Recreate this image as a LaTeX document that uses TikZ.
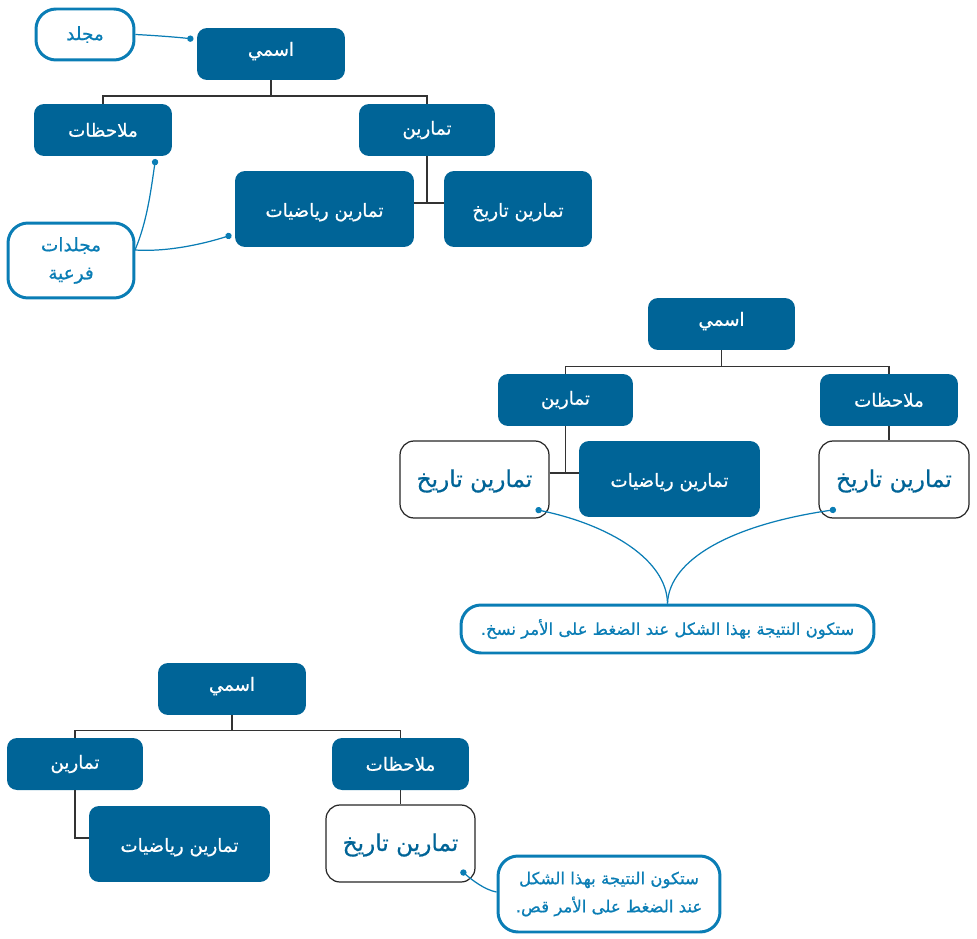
\documentclass[tikz,border=0pt]{standalone}
\usepackage{fontspec}
\usetikzlibrary{arrows.meta}
\TeXXeTstate=1
\newfontfamily\arabicfont[Script=Arabic,FakeBold=0.7]{DejaVu Sans}
\newcommand{\ar}[1]{\arabicfont\beginR #1\endR}
\definecolor{boxblue}{HTML}{006497}
\definecolor{noteblue}{HTML}{0A7DB5}
\tikzset{
  bluebox/.style={fill=boxblue,rounded corners=0.2cm,text=white,font=\fontsize{10.4pt}{14pt}\selectfont,inner sep=0pt},
  tallbox/.style={bluebox,text height=9pt,text depth=0pt},
  namebox/.style={bluebox,text height=6pt,text depth=4pt},
  whitebox/.style={draw=black!85,line width=0.7pt,fill=white,rounded corners=0.28cm,text=boxblue,font=\fontsize{13.2pt}{20pt}\selectfont,inner sep=0pt,text height=10pt,text depth=1.5pt},
  notebox/.style={draw=noteblue,line width=1.7pt,fill=white,rounded corners=0.4cm,text=noteblue,align=center,font=\fontsize{9.4pt}{16pt}\selectfont,inner sep=0pt},
  smallnote/.style={notebox,font=\fontsize{10.5pt}{16pt}\selectfont},
  treeline/.style={draw=black!80,line width=0.7pt},
  noteline/.style={draw=noteblue,line width=0.7pt},
  dotline/.style={noteline,-{Circle[length=3.6pt]}}
}
\begin{document}
\begin{tikzpicture}[x=0.02cm,y=-0.02cm]
\useasboundingbox (0,0) rectangle (977,939);

% top tree
\node (name1) at (271,54) [namebox,minimum width=2.96cm,minimum height=1.04cm] {\ar{اسمي}};
\node (notes1) at (103,130) [bluebox,minimum width=2.76cm,minimum height=1.04cm] {\ar{ملاحظات}};
\node (drills1) at (427,130) [bluebox,minimum width=2.72cm,minimum height=1.04cm] {\ar{تمارين}};
\node (math1) at (324.5,209) [tallbox,minimum width=3.58cm,minimum height=1.52cm] {\ar{تمارين رياضيات}};
\node (hist1) at (518,209) [tallbox,minimum width=2.96cm,minimum height=1.52cm] {\ar{تمارين تاريخ}};
\node (folder1) at (85,34.5) [smallnote,minimum width=1.96cm,minimum height=1.02cm] {\ar{مجلد}};
\node (sub1) at (71,260.5) [smallnote,minimum width=2.52cm,minimum height=1.5cm] {\ar{مجلدات}\\\ar{فرعية}};
\coordinate (bus1) at (271,96);
\coordinate (join1) at (427,203);
\coordinate (folderend1) at (193.5,39);
\coordinate (subnotes1) at (155.5,159);
\coordinate (submath1) at (231.5,235);
\draw [treeline] (name1.south) -- (bus1);
\draw [treeline] (notes1.north) |- (bus1) -| (drills1.north);
\draw [treeline] (drills1.south) -- (join1);
\draw [treeline] (math1.east |- join1) -- (hist1.west |- join1);
\draw [dotline] (folder1.east) .. controls (155,35.5) and (175,37) .. (folderend1);
\draw [dotline] (135,250) .. controls (147,222) and (151,190) .. (subnotes1);
\draw [dotline] (135,250) .. controls (165,252) and (200,245) .. (submath1);

% middle tree
\node (name2) at (721.5,324) [namebox,minimum width=2.94cm,minimum height=1.04cm] {\ar{اسمي}};
\node (drills2) at (565.5,400) [bluebox,minimum width=2.7cm,minimum height=1.04cm] {\ar{تمارين}};
\node (notes2) at (889,400) [bluebox,minimum width=2.76cm,minimum height=1.04cm] {\ar{ملاحظات}};
\node (hist2) at (474.5,479.5) [whitebox,minimum width=2.98cm,minimum height=1.54cm] {\ar{تمارين تاريخ}};
\node (math2) at (669.5,479) [tallbox,minimum width=3.62cm,minimum height=1.52cm] {\ar{تمارين رياضيات}};
\node (histb2) at (894,479.5) [whitebox,minimum width=3cm,minimum height=1.54cm] {\ar{تمارين تاريخ}};
\node (copy2) at (667.5,629) [notebox,minimum width=8.26cm,minimum height=0.96cm] {\ar{ستكون النتيجة بهذا الشكل عند الضغط على الأمر نسخ.}};
\coordinate (bus2) at (721.5,366.5);
\coordinate (join2) at (565.5,473);
\coordinate (histend2) at (535.5,509.5);
\coordinate (histbend2) at (836,509.5);
\draw [treeline] (name2.south) -- (bus2);
\draw [treeline] (drills2.north) |- (bus2) -| (notes2.north);
\draw [treeline] (drills2.south) -- (join2);
\draw [treeline] (hist2.east |- join2) -- (math2.west |- join2);
\draw [treeline] (notes2.south) -- (notes2.south |- histb2.north);
\draw [dotline] (copy2.north) .. controls (667,560) and (610,525) .. (histend2);
\draw [dotline] (copy2.north) .. controls (669,560) and (730,525) .. (histbend2);

% bottom tree
\node (name3) at (232,689) [namebox,minimum width=2.96cm,minimum height=1.04cm] {\ar{اسمي}};
\node (drills3) at (75,764) [bluebox,minimum width=2.72cm,minimum height=1.04cm] {\ar{تمارين}};
\node (notes3) at (400.5,764) [bluebox,minimum width=2.74cm,minimum height=1.04cm] {\ar{ملاحظات}};
\node (math3) at (179.5,844) [tallbox,minimum width=3.62cm,minimum height=1.52cm] {\ar{تمارين رياضيات}};
\node (hist3) at (400.5,843.5) [whitebox,minimum width=2.98cm,minimum height=1.54cm] {\ar{تمارين تاريخ}};
\node (cut3) at (609,894) [notebox,minimum width=4.44cm,minimum height=1.52cm] {\ar{ستكون النتيجة بهذا الشكل}\\\ar{عند الضغط على الأمر قص.}};
\coordinate (bus3) at (232,730.5);
\coordinate (join3) at (75,838);
\coordinate (histend3) at (461,870.5);
\draw [treeline] (name3.south) -- (bus3);
\draw [treeline] (drills3.north) |- (bus3) -| (notes3.north);
\draw [treeline] (drills3.south) -- (join3) -- (math3.west |- join3);
\draw [treeline] (notes3.south) -- (hist3.north);
\draw [dotline] (cut3.west |- 0,892) .. controls (485,890) and (472,880) .. (histend3);
\end{tikzpicture}
\end{document}
